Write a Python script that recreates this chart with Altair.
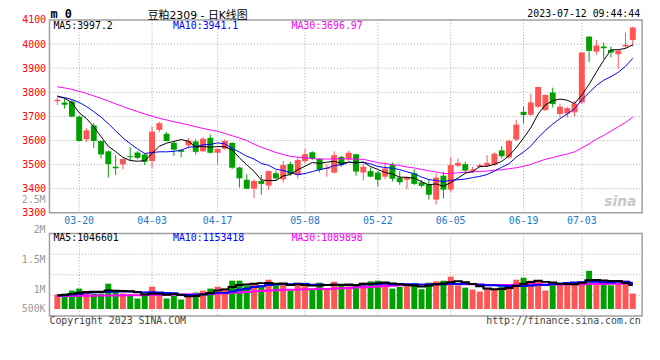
import altair as alt
import pandas as pd

# ---------------- data ----------------
opens = [3763, 3758, 3762, 3699, 3605, 3662, 3598, 3555, 3491, 3501,
         3535, 3550, 3542, 3515, 3644, 3628, 3590, 3560, 3580, 3596,
         3555, 3611, 3549, 3566, 3590, 3488, 3437, 3400, 3432, 3413,
         3464, 3439, 3502, 3457, 3514, 3551, 3524, 3482, 3467, 3532,
         3521, 3543, 3467, 3473, 3467, 3450, 3498, 3446, 3437, 3464,
         3426, 3419, 3355, 3454, 3396, 3495, 3502, 3475, 3491, 3495,
         3500, 3559, 3530, 3604, 3719, 3707, 3740, 3726, 3799, 3710,
         3712, 3717, 3758, 4031, 3969, 3990, 3976, 3958, 3990, 4017]
highs = [3778, 3776, 3770, 3702, 3651, 3672, 3600, 3558, 3539, 3526,
         3572, 3556, 3546, 3658, 3678, 3635, 3596, 3564, 3610, 3605,
         3614, 3625, 3567, 3605, 3592, 3491, 3460, 3439, 3457, 3475,
         3475, 3514, 3512, 3532, 3566, 3555, 3526, 3501, 3555, 3536,
         3557, 3545, 3505, 3488, 3475, 3509, 3509, 3473, 3450, 3481,
         3436, 3436, 3464, 3471, 3529, 3525, 3512, 3491, 3505, 3539,
         3550, 3576, 3604, 3686, 3740, 3794, 3824, 3791, 3819, 3753,
         3740, 3764, 3967, 4033, 4017, 4006, 3990, 3976, 4047, 4072]
lows = [3747, 3733, 3696, 3596, 3594, 3569, 3526, 3446, 3457, 3480,
        3517, 3522, 3498, 3484, 3635, 3596, 3536, 3530, 3566, 3542,
        3553, 3547, 3501, 3562, 3482, 3405, 3398, 3361, 3375, 3395,
        3437, 3426, 3454, 3443, 3505, 3520, 3468, 3450, 3462, 3491,
        3516, 3454, 3434, 3447, 3409, 3439, 3430, 3416, 3398, 3416,
        3405, 3355, 3334, 3359, 3385, 3490, 3464, 3464, 3487, 3490,
        3495, 3525, 3525, 3598, 3671, 3702, 3734, 3723, 3737, 3696,
        3696, 3700, 3751, 3926, 3956, 3938, 3945, 3897, 3983, 3990]
closes = [3769, 3748, 3699, 3598, 3642, 3598, 3542, 3502, 3485, 3523,
          3531, 3528, 3512, 3637, 3672, 3598, 3562, 3553, 3599, 3553,
          3607, 3549, 3565, 3598, 3487, 3443, 3400, 3432, 3420, 3473,
          3443, 3498, 3461, 3519, 3543, 3523, 3478, 3487, 3539, 3498,
          3549, 3471, 3491, 3450, 3437, 3484, 3441, 3427, 3447, 3420,
          3412, 3375, 3446, 3396, 3498, 3507, 3475, 3480, 3498, 3507,
          3545, 3535, 3598, 3666, 3706, 3758, 3822, 3789, 3751, 3740,
          3734, 3753, 3965, 3972, 3994, 3983, 3965, 3973, 3997, 4069]
ma5 = [3785, 3775, 3757, 3715, 3691, 3657, 3616, 3576, 3554, 3530,
       3517, 3514, 3516, 3546, 3576, 3589, 3596, 3604, 3597, 3573,
       3575, 3572, 3575, 3574, 3561, 3528, 3499, 3472, 3436, 3434,
       3434, 3453, 3459, 3479, 3493, 3509, 3505, 3510, 3514, 3505,
       3510, 3509, 3510, 3492, 3480, 3467, 3461, 3448, 3447, 3444,
       3429, 3416, 3420, 3410, 3425, 3444, 3464, 3471, 3492, 3493,
       3501, 3513, 3537, 3570, 3610, 3653, 3710, 3748, 3765, 3772,
       3767, 3753, 3789, 3833, 3884, 3933, 3976, 3977, 3982, 3997.2]
ma10 = [3782, 3778, 3770, 3758, 3741, 3720, 3697, 3670, 3640, 3611,
        3587, 3565, 3546, 3550, 3553, 3553, 3555, 3560, 3572, 3575,
        3582, 3584, 3590, 3586, 3567, 3552, 3535, 3523, 3505, 3497,
        3481, 3476, 3466, 3458, 3463, 3471, 3479, 3485, 3496, 3499,
        3510, 3507, 3510, 3503, 3492, 3488, 3485, 3479, 3470, 3462,
        3448, 3438, 3434, 3429, 3435, 3437, 3440, 3446, 3451, 3459,
        3473, 3489, 3504, 3531, 3552, 3577, 3612, 3642, 3668, 3691,
        3710, 3732, 3768, 3799, 3828, 3850, 3865, 3883, 3908, 3941.1]
ma30 = [3823, 3818, 3812, 3804, 3795, 3785, 3775, 3764, 3752, 3741,
        3730, 3720, 3710, 3701, 3692, 3685, 3678, 3671, 3665, 3657,
        3650, 3644, 3638, 3629, 3620, 3610, 3600, 3585, 3572, 3561,
        3550, 3542, 3534, 3531, 3528, 3525, 3523, 3523, 3524, 3524,
        3524, 3522, 3522, 3515, 3508, 3504, 3500, 3496, 3490, 3486,
        3480, 3474, 3470, 3463, 3463, 3466, 3468, 3470, 3472, 3473,
        3477, 3478, 3483, 3487, 3493, 3501, 3512, 3522, 3529, 3537,
        3544, 3553, 3569, 3586, 3605, 3621, 3639, 3657, 3675, 3696.97]
# volume and its averages, in thousands
vol_k = [635, 678, 808, 894, 721, 678, 678, 1110, 808, 678,
         635, 462, 605, 981, 635, 462, 578, 419, 678, 721,
         808, 894, 981, 894, 1240, 1240, 1037, 1110, 1037, 1283,
         1037, 1110, 808, 1153, 1153, 894, 1153, 894, 1197, 1110,
         992, 1067, 1153, 1211, 1240, 1110, 894, 966, 1067, 1110,
         865, 1153, 1211, 1240, 1413, 1038, 937, 851, 765, 923,
         865, 966, 1067, 1283, 1369, 1240, 1240, 808, 1153, 1110,
         1182, 1182, 1139, 1672, 1153, 1110, 1038, 1153, 1240, 678]
vma5_k = [600, 620, 660, 710, 747, 756, 756, 816, 799, 790,
          782, 739, 638, 672, 664, 629, 652, 615, 554, 572,
          641, 704, 816, 860, 963, 1050, 1078, 1104, 1133, 1141,
          1101, 1115, 1055, 1078, 1052, 1024, 1032, 1049, 1058, 1050,
          1069, 1052, 1104, 1107, 1133, 1156, 1122, 1084, 1055, 1029,
          980, 1032, 1081, 1116, 1176, 1211, 1168, 1096, 1001, 903,
          868, 874, 917, 1021, 1110, 1185, 1240, 1188, 1162, 1110,
          1099, 1087, 1153, 1257, 1266, 1251, 1222, 1225, 1139, 1046.6]
vma10_k = [590, 600, 630, 670, 710, 735, 750, 760, 765, 769,
           769, 747, 727, 736, 727, 705, 695, 626, 613, 618,
           635, 678, 716, 707, 768, 845, 891, 960, 996, 1052,
           1075, 1097, 1080, 1106, 1097, 1062, 1074, 1052, 1068, 1051,
           1046, 1042, 1077, 1082, 1091, 1113, 1087, 1094, 1081, 1081,
           1068, 1077, 1083, 1086, 1103, 1096, 1100, 1089, 1058, 1040,
           1040, 1021, 1007, 1011, 1006, 1027, 1057, 1053, 1091, 1110,
           1142, 1163, 1171, 1210, 1188, 1175, 1155, 1189, 1198, 1153.4]
vma30_k = [570, 572, 575, 578, 582, 585, 588, 592, 596, 600,
           604, 607, 611, 615, 619, 623, 628, 633, 638, 645,
           652, 662, 675, 690, 708, 728, 750, 772, 793, 813,
           826, 841, 841, 849, 864, 871, 887, 880, 893, 907,
           919, 939, 957, 965, 985, 1007, 1017, 1036, 1048, 1061,
           1063, 1072, 1080, 1091, 1097, 1090, 1087, 1078, 1069, 1057,
           1051, 1047, 1055, 1060, 1067, 1078, 1081, 1078, 1077, 1077,
           1083, 1087, 1087, 1102, 1099, 1099, 1104, 1110, 1116, 1089.9]

price_ticks = [3300, 3400, 3500, 3600, 3700, 3800, 3900, 4000, 4100]
date_labels = ["03-20", "04-03", "04-17", "05-08", "05-22", "06-05", "06-19", "07-03"]
date_index = [3, 13, 22, 34, 44, 54, 64, 72]
vol_labels = ["2.5M", "2M", "1.5M", "1M", "500K"]

# ---------------- layout ----------------
W = 600
PRICE_H = 195.2
GAP = 21.0
VOL_H = 83.4
H = PRICE_H + GAP + VOL_H
P_LO, P_HI = 3300, 4100
p_per_px = (P_HI - P_LO) / PRICE_H
price_domain = [P_LO - (GAP + VOL_H) * p_per_px, P_HI]
V_LO, V_HI = -300000, 3300000
v_per_px = (V_HI - V_LO) / VOL_H
vol_domain = [V_LO, V_LO + H * v_per_px]
X_DOMAIN = [-0.4, 79.6]

RED = "#FF5555"
GREEN = "#00A000"
GRID = "#A8A8A8"
BORDER = "#A0A0A0"
BLUE_TXT = "#1C78CC"
MONO = "DejaVu Sans Mono"

n = len(closes)
df = pd.DataFrame({
    "i": list(range(n)), "open": opens, "high": highs, "low": lows, "close": closes,
    "ma5": ma5, "ma10": ma10, "ma30": ma30,
    "vol": [v * 1000 for v in vol_k],
    "vma5": [v * 1000 for v in vma5_k],
    "vma10": [v * 1000 for v in vma10_k],
    "vma30": [v * 1000 for v in vma30_k],
})
df["dir"] = ["up" if c >= o else "down" for o, c in zip(opens, closes)]
df["zero"] = 0

X = alt.X("i:Q", scale=alt.Scale(domain=X_DOMAIN, nice=False, zero=False), axis=None)
PS = alt.Scale(domain=price_domain, nice=False, zero=False)
VS = alt.Scale(domain=vol_domain, nice=False, zero=False)
COL = alt.Color("dir:N", scale=alt.Scale(domain=["up", "down"], range=[RED, GREEN]), legend=None)

base = alt.Chart(df)
one = pd.DataFrame({"a": [0]})

ticks_df = pd.DataFrame({"i": date_index, "lab": date_labels,
                         "ptop": P_HI, "pbot": P_LO, "vtop": V_HI, "vbot": V_LO})
hgrid_df = pd.DataFrame({"p": price_ticks[1:-1]})
vgrid_h = pd.DataFrame({"v": [V_LO + k * (V_HI - V_LO) / 4 for k in (1, 2, 3)]})
panels = pd.DataFrame({"ptop": [P_HI], "pbot": [P_LO], "vtop": [V_HI], "vbot": [V_LO]})

price_axis = alt.Axis(values=price_ticks, format="d", labelColor="#FF0000", labelFont=MONO,
                      labelFontSize=10, domain=False, ticks=False, tickSize=0, grid=False,
                      labelPadding=4, title=None, labelOverlap=False, labelFlush=False)

layers = []
# grids
layers.append(alt.Chart(hgrid_df).mark_rule(color=GRID, strokeDash=[1, 2], strokeWidth=1).encode(
    x=alt.value(0), x2=alt.value(W), y=alt.Y("p:Q", scale=PS, axis=price_axis)))
layers.append(alt.Chart(ticks_df).mark_rule(color=GRID, strokeDash=[1, 2], strokeWidth=1).encode(
    x=X, y=alt.Y("ptop:Q", scale=PS, axis=None), y2="pbot:Q"))
layers.append(alt.Chart(vgrid_h).mark_rule(color=GRID, strokeDash=[1, 2], strokeWidth=1).encode(
    x=alt.value(0), x2=alt.value(W), y=alt.Y("v:Q", scale=VS, axis=None)))
layers.append(alt.Chart(ticks_df).mark_rule(color=GRID, strokeDash=[1, 2], strokeWidth=1).encode(
    x=X, y=alt.Y("vtop:Q", scale=VS, axis=None), y2="vbot:Q"))

# watermark
layers.append(alt.Chart(one).mark_text(text="sina", align="center", baseline="middle", color="#C8C8C8",
                                       font="DejaVu Sans", fontSize=14, fontWeight="bold",
                                       fontStyle="italic").encode(x=alt.value(578), y=alt.value(184)))

# candles
layers.append(base.mark_rule(strokeWidth=1).encode(
    x=X, y=alt.Y("low:Q", scale=PS, axis=None), y2="high:Q", color=COL))
layers.append(base.mark_bar(size=6).encode(
    x=X, y=alt.Y("open:Q", scale=PS, axis=None), y2="close:Q", color=COL))
for col, c in (("ma30", "#FF00FF"), ("ma10", "#0000FF"), ("ma5", "#000000")):
    layers.append(base.mark_line(color=c, strokeWidth=1).encode(
        x=X, y=alt.Y(f"{col}:Q", scale=PS, axis=None)))

# volume
layers.append(base.mark_bar(size=6).encode(
    x=X, y=alt.Y("vol:Q", scale=VS, axis=None), y2="zero:Q", color=COL))
for col, c in (("vma30", "#FF00FF"), ("vma10", "#0000FF"), ("vma5", "#000000")):
    layers.append(base.mark_line(color=c, strokeWidth=2, interpolate="step").encode(
        x=X, y=alt.Y(f"{col}:Q", scale=VS, axis=None)))

# panel borders
layers.append(alt.Chart(panels).mark_rect(fillOpacity=0, stroke=BORDER, strokeWidth=1.5).encode(
    x=alt.value(0), x2=alt.value(W), y=alt.Y("ptop:Q", scale=PS, axis=None), y2="pbot:Q"))
layers.append(alt.Chart(panels).mark_rect(fillOpacity=0, stroke=BORDER, strokeWidth=1.5).encode(
    x=alt.value(0), x2=alt.value(W), y=alt.Y("vtop:Q", scale=VS, axis=None), y2="vbot:Q"))

# date labels
layers.append(alt.Chart(ticks_df).mark_text(baseline="middle", align="center", color=BLUE_TXT,
                                            font=MONO, fontSize=10).encode(
    x=X, y=alt.value(203.1), text="lab:N"))


def label(text, x, y, color="#000000", align="left", size=10, font=MONO, weight="normal", style="normal"):
    return alt.Chart(one).mark_text(text=text, align=align, baseline="middle", color=color, font=font,
                                    fontSize=size, fontWeight=weight, fontStyle=style).encode(
        x=alt.value(x), y=alt.value(y))


# volume axis labels (as drawn in the source)
for lab, py in zip(vol_labels, [181.9, 212.9, 242.9, 272.9, 292.9]):
    layers.append(label(lab, -4, py, color="#999999", align="right"))

layers.append(label("m 0", 1, -6.1, weight="bold", size=12))
layers.append(label("豆粕2309 - 日K线图", 150, -3.8, align="center", size=11,
                    font="DejaVu Sans, Noto Sans CJK SC"))
layers.append(label("2023-07-12 09:44:44", 598, -6.1, align="right", size=10))
layers.append(label("MA5:3997.2", 4, 5.8))
layers.append(label("MA10:3941.1", 125, 5.8, color="#0000FF"))
layers.append(label("MA30:3696.97", 245, 5.8, color="#FF00FF"))
layers.append(label("MA5:1046601", 4, 220.9))
layers.append(label("MA10:1153418", 125, 220.9, color="#0000FF"))
layers.append(label("MA30:1089898", 245, 220.9, color="#FF00FF"))
layers.append(label("Copyright 2023 SINA.COM", 0, 305.2, color="#444444"))
layers.append(label("http://finance.sina.com.cn", 598.5, 305.2, color="#444444", align="right"))

chart = alt.layer(*layers).resolve_scale(y="independent").properties(
    width=W, height=H,
    padding={"left": 42, "top": 10.1, "right": 10, "bottom": 20},
    autosize=alt.AutoSizeParams(type="none"),
    background="white",
).configure_view(stroke=None)

chart.save("out.html", embed_options={"renderer": "svg", "actions": False})
